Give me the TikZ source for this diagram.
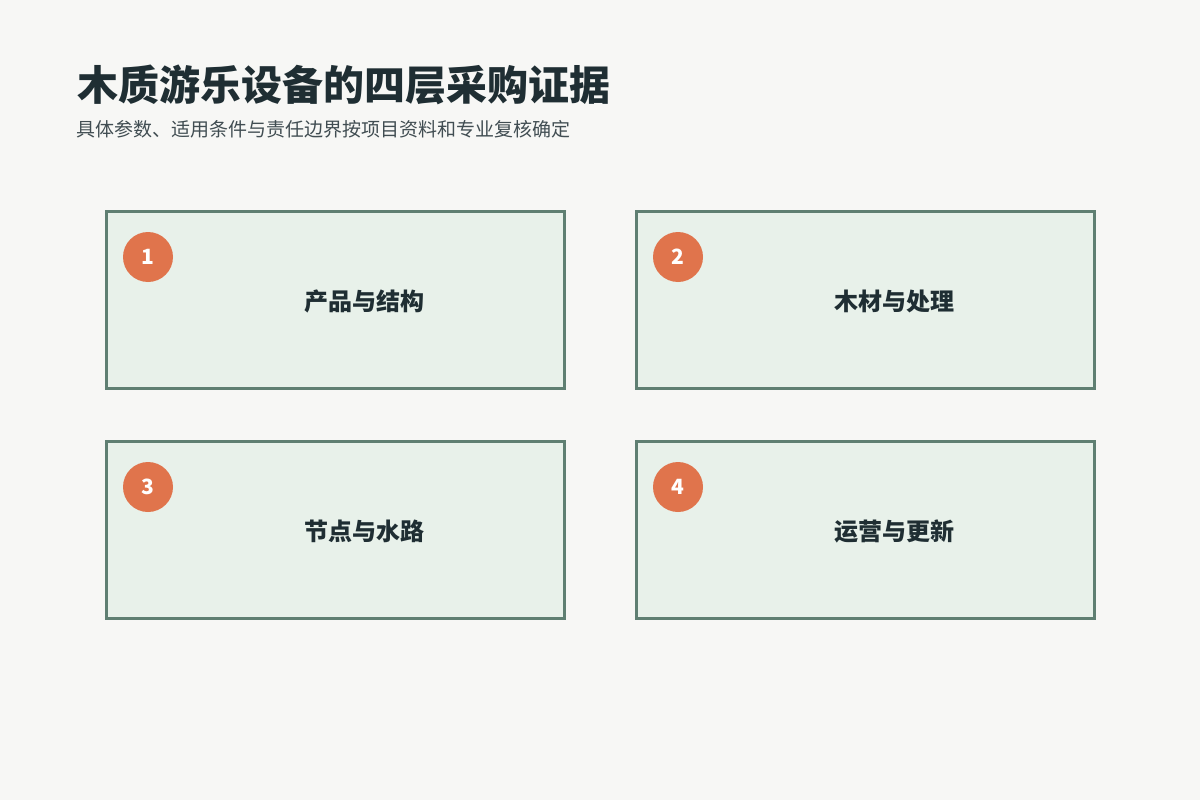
\documentclass[tikz,border=0pt]{standalone}
\usepackage{fontspec}
\setmainfont{Noto Sans}
\newfontfamily\cjk{Noto Sans CJK SC}
\usetikzlibrary{positioning,backgrounds}
\definecolor{pagebg}{HTML}{F7F7F5}
\definecolor{cardfill}{HTML}{E8F1EA}
\definecolor{cardline}{HTML}{5F7F72}
\definecolor{badge}{HTML}{E0744C}
\definecolor{ink}{HTML}{1F2E33}
\tikzset{
  card/.style={draw=cardline, fill=cardfill, line width=3pt,
    minimum width=458pt, minimum height=177pt, inner sep=0pt},
  badgedot/.style={circle, fill=badge, minimum size=50pt, inner sep=0pt,
    text=white, font=\cjk\fontsize{21}{24}\selectfont\bfseries},
  cardlabel/.style={text=ink, inner sep=0pt, font=\cjk\fontsize{24}{28}\selectfont\bfseries},
}

\begin{document}
\begin{tikzpicture}[x=1pt,y=-1pt]
  \fill[pagebg] (0,0) rectangle (1200,800);
  \useasboundingbox (0,0) rectangle (1200,800);
  \node[anchor=west, inner sep=0pt, text=ink, font=\cjk\fontsize{41}{48}\selectfont\bfseries]
    (title) at (77,85) {木质游乐设备的四层采购证据};
  \node[anchor=west, inner sep=0pt, text=ink!85, font=\cjk\fontsize{19}{22}\selectfont]
    (subtitle) at (76,129) {具体参数、适用条件与责任边界按项目资料和专业复核确定};

  \node[card] (product) at (335.5,300) {};
  \node[card] (timber)  at (865.5,300) {};
  \node[card] (joints)  at (335.5,530) {};
  \node[card] (operate) at (865.5,530) {};

  \node[badgedot] (n1) at (148,257) {1};
  \node[badgedot] (n2) at (678,257) {2};
  \node[badgedot] (n3) at (148,487) {3};
  \node[badgedot] (n4) at (678,487) {4};

  \node[cardlabel] (l1) at (364,301) {产品与结构};
  \node[cardlabel] (l2) at (894,301) {木材与处理};
  \node[cardlabel] (l3) at (364,531) {节点与水路};
  \node[cardlabel] (l4) at (894,531) {运营与更新};
\end{tikzpicture}
\end{document}
